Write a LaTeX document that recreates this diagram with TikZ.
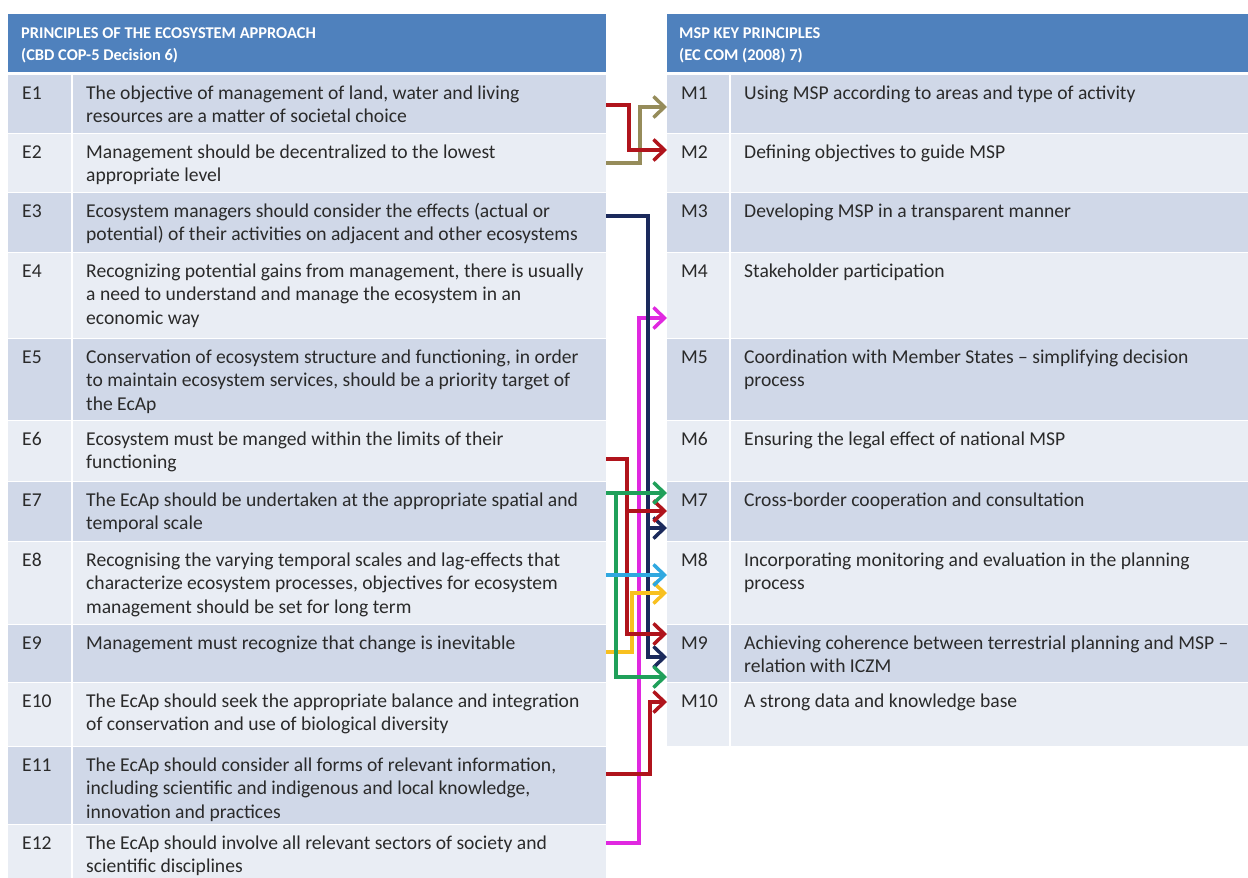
\documentclass[tikz,border=0pt]{standalone}
\usepackage{fontspec}
\setmainfont{Carlito}
\usetikzlibrary{arrows.meta}

\definecolor{hdrblue}{HTML}{4F81BD}
\definecolor{rowdark}{HTML}{D0D8E8}
\definecolor{rowlight}{HTML}{E9EDF4}
\definecolor{txtgrey}{HTML}{2A2A2A}
\definecolor{lnolive}{HTML}{968C5A}
\definecolor{lnred}{HTML}{B0141C}
\definecolor{lnnavy}{HTML}{1B2A5C}
\definecolor{lnmagenta}{HTML}{E028E0}
\definecolor{lngreen}{HTML}{20A05A}
\definecolor{lncyan}{HTML}{30A8E0}
\definecolor{lnyellow}{HTML}{F8C020}

\tikzset{
  rowcell/.style={anchor=north west, draw=none, inner sep=0pt, outer sep=0pt},
  celltext/.style={anchor=north west, inner sep=0pt, align=left, text=txtgrey,
    font=\fontsize{19.6}{23.5}\selectfont},
  hdrtext/.style={anchor=north west, inner sep=0pt, align=left, text=white,
    font=\bfseries\fontsize{16.4}{22}\selectfont},
  divider/.style={white, line width=1.5pt},
  link/.style={line width=3.5pt, line join=miter,
    -{Straight Barb[length=11pt,width=21pt]}},
}

% one table row: name, left x, right x, column divider x, top y, height, fill, id, text
\newcommand\tabrow[9]{%
  \node[rowcell, fill=#7, minimum width={#3pt-#2pt}, minimum height={#6pt-1.5pt}]
    (#1) at (#2,#5) {};
  \draw[divider] (#4,#5) -- (#4,{#5+#6});
  \node[celltext] (#1-id) at ({#2+14},{#5+7.5}) {\strut #8};
  \node[celltext] (#1-txt) at ({#4+14},{#5+7.5}) {\strut #9};
}

\begin{document}
\begin{tikzpicture}[x=1pt, y=-1pt]
\useasboundingbox (0,0) rectangle (1248,878);
\clip (0,0) rectangle (1248,878);
\fill[white] (0,0) rectangle (1248,878);

% headers
\node[rowcell, fill=hdrblue, minimum width=598pt, minimum height=58pt] (hdrE) at (8,14) {};
\node[hdrtext] (hdrE-txt) at (21,22.5) {\strut PRINCIPLES OF THE ECOSYSTEM APPROACH\\(CBD COP-5 Decision 6)};
\node[rowcell, fill=hdrblue, minimum width=581pt, minimum height=58pt] (hdrM) at (667,14) {};
\node[hdrtext] (hdrM-txt) at (679,22.5) {\strut MSP KEY PRINCIPLES\\(EC COM (2008) 7)};

% ecosystem approach principles
\tabrow{e1}{8}{606}{72}{75}{59}{rowdark}{E1}{The objective of management of land, water and living\\resources are a matter of societal choice}
\tabrow{e2}{8}{606}{72}{134}{59}{rowlight}{E2}{Management should be decentralized to the lowest\\appropriate level}
\tabrow{e3}{8}{606}{72}{193}{60}{rowdark}{E3}{Ecosystem managers should consider the effects (actual or\\potential) of their activities on adjacent and other ecosystems}
\tabrow{e4}{8}{606}{72}{253}{86}{rowlight}{E4}{Recognizing potential gains from management, there is usually\\a need to understand and manage the ecosystem in an\\economic way}
\tabrow{e5}{8}{606}{72}{339}{82}{rowdark}{E5}{Conservation of ecosystem structure and functioning, in order\\to maintain ecosystem services, should be a priority target of\\the EcAp}
\tabrow{e6}{8}{606}{72}{421}{61}{rowlight}{E6}{Ecosystem must be manged within the limits of their\\functioning}
\tabrow{e7}{8}{606}{72}{482}{60}{rowdark}{E7}{The EcAp should be undertaken at the appropriate spatial and\\temporal scale}
\tabrow{e8}{8}{606}{72}{542}{83}{rowlight}{E8}{Recognising the varying temporal scales and lag-effects that\\characterize ecosystem processes, objectives for ecosystem\\management should be set for long term}
\tabrow{e9}{8}{606}{72}{625}{58}{rowdark}{E9}{Management must recognize that change is inevitable}
\tabrow{e10}{8}{606}{72}{683}{64}{rowlight}{E10}{The EcAp should seek the appropriate balance and integration\\of conservation and use of biological diversity}
\tabrow{e11}{8}{606}{72}{747}{78}{rowdark}{E11}{The EcAp should consider all forms of relevant information,\\including scientific and indigenous and local knowledge,\\innovation and practices}
\tabrow{e12}{8}{606}{72}{825}{73}{rowlight}{E12}{The EcAp should involve all relevant sectors of society and\\scientific disciplines}

% MSP key principles
\tabrow{m1}{667}{1250}{730}{75}{59}{rowdark}{M1}{Using MSP according to areas and type of activity}
\tabrow{m2}{667}{1250}{730}{134}{59}{rowlight}{M2}{Defining objectives to guide MSP}
\tabrow{m3}{667}{1250}{730}{193}{60}{rowdark}{M3}{Developing MSP in a transparent manner}
\tabrow{m4}{667}{1250}{730}{253}{86}{rowlight}{M4}{Stakeholder participation}
\tabrow{m5}{667}{1250}{730}{339}{82}{rowdark}{M5}{Coordination with Member States -- simplifying decision\\process}
\tabrow{m6}{667}{1250}{730}{421}{61}{rowlight}{M6}{Ensuring the legal effect of national MSP}
\tabrow{m7}{667}{1250}{730}{482}{60}{rowdark}{M7}{Cross-border cooperation and consultation}
\tabrow{m8}{667}{1250}{730}{542}{83}{rowlight}{M8}{Incorporating monitoring and evaluation in the planning\\process}
\tabrow{m9}{667}{1250}{730}{625}{58}{rowdark}{M9}{Achieving coherence between terrestrial planning and MSP --\\relation with ICZM}
\tabrow{m10}{667}{1250}{730}{683}{64}{rowlight}{M10}{A strong data and knowledge base}

% junction points on shared trunks
\coordinate (navyfork) at (648,528);
\coordinate (redfork) at (627,511);
\coordinate (greenfork) at (616,493);

% links between the two lists
\draw[link, lnmagenta] (e12.east |- 0,843) -| (639,318) -- (m4.west |- 0,318);
\draw[link, lnnavy] (e3.east |- 0,216) -| (648,657) -- (m9.west |- 0,657);
\draw[link, lnnavy] (navyfork) -- (m7.west |- navyfork);
\draw[link, lnolive] (e2.east |- 0,163) -| (640,107) -- (m1.west |- 0,107);
\draw[link, lnred] (e1.east |- 0,105) -| (629,150) -- (m2.west |- 0,150);
\draw[link, lnyellow] (e9.east |- 0,652) -| (632,593) -- (m8.west |- 0,593);
\draw[link, lnred] (e6.east |- 0,459) -| (627,634) -- (m9.west |- 0,634);
\draw[link, lnred] (redfork) -- (m7.west |- redfork);
\draw[link, lngreen] (e7.east |- greenfork) -- (m7.west |- greenfork);
\draw[link, lngreen] (greenfork) |- (m9.west |- 0,677);
\draw[link, lncyan] (e8.east |- 0,575) -- (m8.west |- 0,575);
\draw[link, lnred] (e11.east |- 0,774) -| (650,702) -- (m10.west |- 0,702);
\end{tikzpicture}
\end{document}
